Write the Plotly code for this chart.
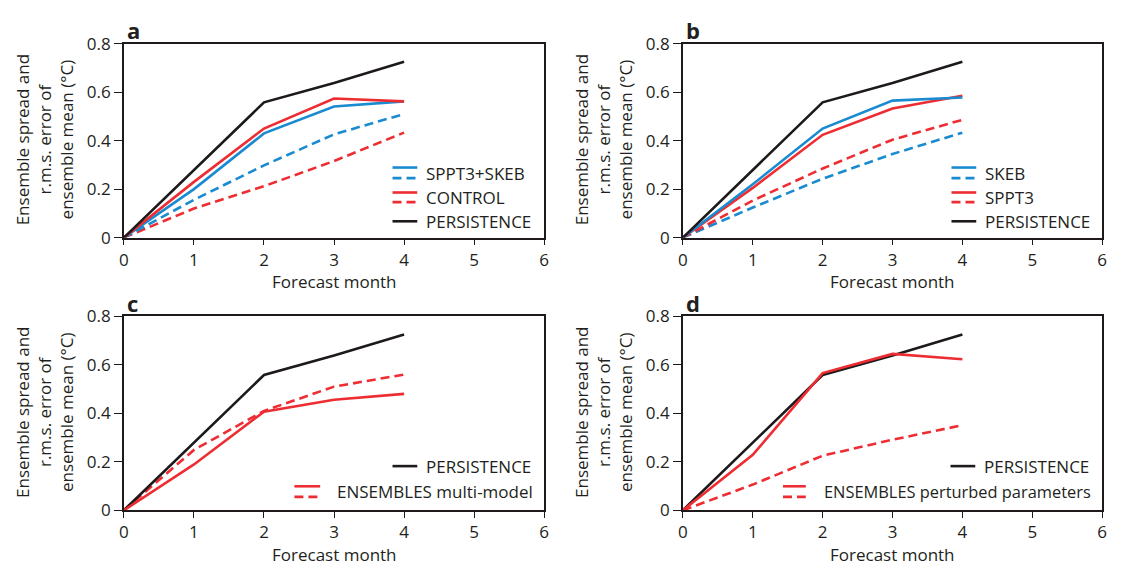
import plotly.graph_objects as go

# ---------------- data ----------------
months = [0, 1, 2, 3, 4]
persistence = [0, 0.28, 0.558, 0.638, 0.725]

a_sppt3skeb_rmse = [0, 0.20, 0.43, 0.541, 0.562]
a_control_rmse = [0, 0.23, 0.45, 0.574, 0.562]
a_sppt3skeb_spread = [0, 0.156, 0.298, 0.426, 0.51]
a_control_spread = [0, 0.12, 0.212, 0.316, 0.433]

b_skeb_rmse = [0, 0.22, 0.45, 0.565, 0.578]
b_sppt3_rmse = [0, 0.205, 0.424, 0.533, 0.585]
b_skeb_spread = [0, 0.124, 0.243, 0.345, 0.433]
b_sppt3_spread = [0, 0.153, 0.285, 0.404, 0.486]

c_multi_rmse = [0, 0.189, 0.407, 0.456, 0.48]
c_multi_spread = [0, 0.249, 0.41, 0.51, 0.56]

d_pert_rmse = [0, 0.229, 0.566, 0.645, 0.623]
d_pert_spread = [0, 0.106, 0.225, 0.291, 0.351]

x_ticks = [0, 1, 2, 3, 4, 5, 6]
x_tick_labels = ["0", "1", "2", "3", "4", "5", "6"]
y_ticks = [0, 0.2, 0.4, 0.6, 0.8]
y_tick_labels = ["0", "0.2", "0.4", "0.6", "0.8"]

panel_letters = ["a", "b", "c", "d"]
legend_a = ["SPPT3+SKEB", "CONTROL", "PERSISTENCE"]
legend_b = ["SKEB", "SPPT3", "PERSISTENCE"]
legend_c = ["PERSISTENCE", "ENSEMBLES multi-model"]
legend_d = ["PERSISTENCE", "ENSEMBLES perturbed parameters"]
x_title = "Forecast month"
y_title = "Ensemble spread and<br>r.m.s. error of<br>ensemble mean (°C)"

# ---------------- style ----------------
W, H = 1121, 576
BLUE = "#1a8bd0"
RED = "#ee2d33"
BLACK = "#1e1a1b"
TXT = "#231f20"
FONT = "Open Sans"
TICK_FS = 17
TITLE_FS = 17
LEG_FS = 17
LW = 2.6
DASH = "9px,5px"

# plot boxes in pixels: (left, right, top, bottom)
boxes = {
    1: (120, 544, 33, 235),
    2: (684, 1107, 33, 235),
    3: (120, 544, 317, 519),
    4: (684, 1107, 317, 519),
}


def px(x):
    return x / W


def py(y):
    return 1 - y / H


fig = go.Figure()


def add_line(k, y, color, dash="solid"):
    xa = "x" if k == 1 else f"x{k}"
    ya = "y" if k == 1 else f"y{k}"
    fig.add_trace(go.Scatter(x=months, y=y, mode="lines", xaxis=xa, yaxis=ya,
                             line=dict(color=color, width=LW, dash=dash),
                             showlegend=False, hoverinfo="skip"))


# panel a
add_line(1, a_control_spread, RED, DASH)
add_line(1, a_sppt3skeb_spread, BLUE, DASH)
add_line(1, a_sppt3skeb_rmse, BLUE)
add_line(1, a_control_rmse, RED)
add_line(1, persistence, BLACK)
# panel b
add_line(2, b_skeb_spread, BLUE, DASH)
add_line(2, b_sppt3_spread, RED, DASH)
add_line(2, b_sppt3_rmse, RED)
add_line(2, b_skeb_rmse, BLUE)
add_line(2, persistence, BLACK)
# panel c
add_line(3, c_multi_spread, RED, DASH)
add_line(3, persistence, BLACK)
add_line(3, c_multi_rmse, RED)
# panel d
add_line(4, d_pert_spread, RED, DASH)
add_line(4, persistence, BLACK)
add_line(4, d_pert_rmse, RED)

layout = dict(
    width=W, height=H,
    margin=dict(l=0, r=0, t=0, b=0),
    paper_bgcolor="white", plot_bgcolor="white",
    font=dict(family=FONT, size=TICK_FS, color=TXT),
    showlegend=False,
)

for k, (l, r, t, b) in boxes.items():
    sx = "" if k == 1 else str(k)
    layout[f"xaxis{sx}"] = dict(
        domain=[px(l), px(r)], anchor=f"y{sx}", range=[0, 6],
        tickmode="array", tickvals=x_ticks, ticktext=x_tick_labels,
        showline=True, linecolor=BLACK, linewidth=1.5, mirror=True,
        ticks="outside", ticklen=6, tickwidth=1.3, tickcolor=BLACK,
        showgrid=False, zeroline=False, fixedrange=True,
        tickfont=dict(family=FONT, size=TICK_FS, color=TXT),
    )
    layout[f"yaxis{sx}"] = dict(
        domain=[py(b), py(t)], anchor=f"x{sx}", range=[0, 0.8],
        tickmode="array", tickvals=y_ticks, ticktext=y_tick_labels,
        showline=True, linecolor=BLACK, linewidth=1.5, mirror=True,
        ticks="outside", ticklen=8, tickwidth=1.3, tickcolor=BLACK,
        showgrid=False, zeroline=False, fixedrange=True,
        tickfont=dict(family=FONT, size=TICK_FS, color=TXT),
    )

annotations = []
shapes = []

for k, (l, r, t, b) in boxes.items():
    # panel letter
    annotations.append(dict(text=f"<b>{panel_letters[k-1]}</b>", x=px(l + 1), y=py(t - 14),
                            xref="paper", yref="paper", xanchor="left", yanchor="middle",
                            showarrow=False, font=dict(family=FONT, size=22, color=TXT)))
    # x title
    annotations.append(dict(text=x_title, x=px((l + r) / 2), y=py(b + 46),
                            xref="paper", yref="paper", xanchor="center", yanchor="middle",
                            showarrow=False, font=dict(family=FONT, size=TITLE_FS, color=TXT)))
    # y title
    annotations.append(dict(text=y_title, x=px(l - 80), y=py((t + b) / 2 - 1),
                            xref="paper", yref="paper", xanchor="center", yanchor="middle",
                            textangle=-90, showarrow=False,
                            font=dict(family=FONT, size=TITLE_FS, color=TXT)))


def seg(x0, x1, y, color, dash="solid"):
    shapes.append(dict(type="line", xref="paper", yref="paper",
                       x0=px(x0), x1=px(x1), y0=py(y), y1=py(y),
                       line=dict(color=color, width=LW, dash=dash)))


def label(x, y, text, anchor="left", size=LEG_FS):
    annotations.append(dict(text=text, x=px(x), y=py(y), xref="paper", yref="paper",
                            xanchor=anchor, yanchor="middle", showarrow=False,
                            font=dict(family=FONT, size=size, color=TXT)))


# legends a / b
for k, names, c1, c2 in [(1, legend_a, BLUE, RED), (2, legend_b, BLUE, RED)]:
    l, r, t, b = boxes[k]
    s0, s1, tx = l + 271, l + 296, l + 303
    seg(s0, s1, b - 73, c1)
    seg(s0, s1, b - 62, c1, DASH)
    label(tx, b - 67, names[0])
    seg(s0, s1, b - 47, c2)
    seg(s0, s1, b - 37, c2, DASH)
    label(tx, b - 42, names[1])
    seg(s0, s1, b - 17, BLACK)
    label(tx, b - 17, names[2])

# legend c
l, r, t, b = boxes[3]
seg(l + 271, l + 296, b - 46, BLACK)
label(l + 303, b - 46, legend_c[0])
seg(l + 172, l + 198, b - 25, RED)
seg(l + 172, l + 198, b - 14, RED, DASH)
label(r - 9, b - 20, legend_c[1], "right")

# legend d
l, r, t, b = boxes[4]
seg(l + 270, l + 295, b - 46, BLACK)
label(l + 302, b - 46, legend_d[0])
seg(l + 101, l + 124, b - 25, RED)
seg(l + 101, l + 124, b - 14, RED, DASH)
label(r - 9, b - 20, legend_d[1], "right", 16.4)

layout["annotations"] = annotations
layout["shapes"] = shapes
fig.update_layout(**layout)
fig.write_html("out.html")
